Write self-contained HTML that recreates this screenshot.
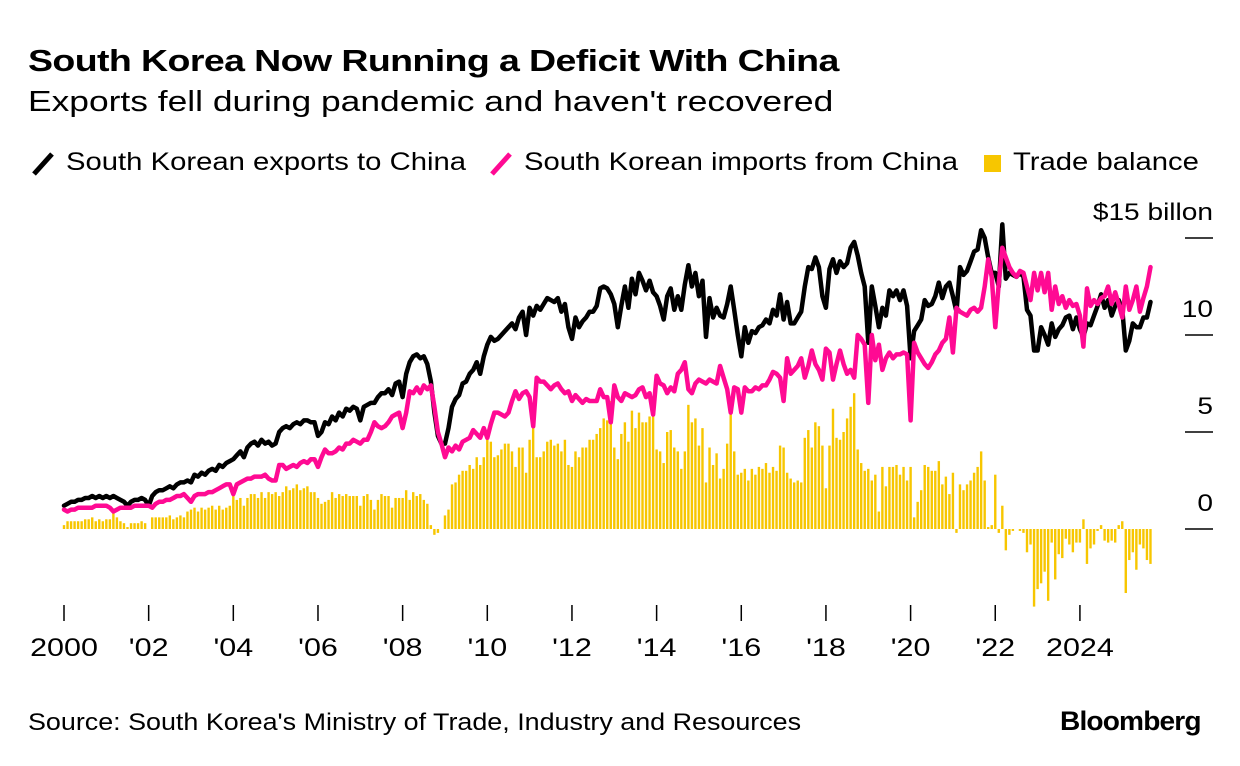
<!DOCTYPE html>
<html><head><meta charset="utf-8">
<style>
body{margin:0;background:#fff;font-family:"Liberation Sans",Arial,sans-serif;color:#000}
#wrap{position:relative;width:1240px;height:766px;overflow:hidden}
.t{position:absolute;white-space:nowrap}
.s{transform-origin:0 0}
</style></head>
<body>
<div id="wrap">
<div class="t s" style="left:28px;top:43px;font-size:31px;font-weight:bold;letter-spacing:-0.5px;transform:scaleX(1.21)">South Korea Now Running a Deficit With China</div>
<div class="t s" style="left:28px;top:86px;font-size:29px;transform:scaleX(1.22)">Exports fell during pandemic and haven't recovered</div>
<div>
<svg class="t" style="left:30px;top:150px" width="26" height="28"><line x1="4" y1="24" x2="22" y2="4" stroke="#000" stroke-width="5"/></svg>
<div class="t s" style="left:66px;top:148px;font-size:25px;transform:scaleX(1.17)">South Korean exports to China</div>
<svg class="t" style="left:488px;top:150px" width="26" height="28"><line x1="4" y1="24" x2="22" y2="4" stroke="#ff0a93" stroke-width="5"/></svg>
<div class="t s" style="left:524px;top:148px;font-size:25px;transform:scaleX(1.17)">South Korean imports from China</div>
<div class="t" style="left:984px;top:155px;width:17px;height:17px;background:#f7c600"></div>
<div class="t s" style="left:1013px;top:148px;font-size:25px;transform:scaleX(1.17)">Trade balance</div>
</div>
<svg id="chart" class="t" style="left:0;top:0" width="1240" height="766"></svg>
<div class="t s" style="left:28px;top:709px;font-size:24px;transform:scaleX(1.12)">Source: South Korea's Ministry of Trade, Industry and Resources</div>
<div class="t s" style="left:1060px;top:706px;font-size:27px;font-weight:bold;letter-spacing:-0.8px;transform:scaleX(1.04)">Bloomberg</div>
</div>
<script>
const startYear = 2000;
const exportsData = [
1.2,1.3,1.4,1.4,1.5,1.5,1.6,1.6,1.7,1.6,1.7,1.6,
1.7,1.6,1.7,1.6,1.5,1.4,1.2,1.4,1.5,1.5,1.6,1.5,
1.2,1.7,1.9,2.0,2.0,2.1,2.2,2.1,2.3,2.4,2.4,2.5,
2.4,2.8,2.7,2.9,2.8,3.0,3.1,3.0,3.3,3.2,3.4,3.5,
3.6,3.8,4.0,3.7,4.2,4.4,4.5,4.3,4.6,4.4,4.5,4.3,
4.4,5.0,5.2,5.3,5.2,5.4,5.5,5.4,5.6,5.6,5.5,5.5,
4.8,5.0,5.5,5.4,5.8,5.6,6.0,5.8,6.2,6.1,6.3,6.2,
5.6,6.3,6.4,6.5,6.5,6.8,7.0,7.0,7.2,6.9,7.5,7.6,
6.8,8.0,8.6,8.9,9.0,8.8,8.9,8.5,7.6,6.0,4.8,4.4,
4.4,5.2,6.3,6.7,6.9,7.5,7.6,8.0,8.2,8.6,8.0,8.9,
9.5,9.9,9.7,9.8,10.0,10.2,10.4,10.6,10.3,10.9,11.2,10.0,
11.4,11.0,11.5,11.3,11.6,11.9,11.8,11.7,11.9,11.2,11.6,10.4,
9.8,10.9,10.4,10.7,10.9,11.2,11.2,11.5,12.4,12.5,12.4,12.1,
11.6,10.4,11.5,12.5,11.4,12.9,12.1,13.2,12.8,12.3,12.8,12.2,
12.0,11.5,10.8,12.0,12.4,11.3,12.0,11.3,12.6,13.6,12.5,13.2,
12.0,12.8,9.9,11.9,10.9,11.4,11.0,10.9,11.6,12.5,11.3,10.0,
8.9,10.4,9.6,10.2,10.1,10.4,10.5,10.8,10.6,11.3,11.0,12.1,
10.8,11.7,10.6,10.6,10.9,11.2,12.5,13.5,13.4,14.0,13.5,12.0,
11.4,13.4,13.9,13.2,13.8,13.5,13.7,14.5,14.8,14.1,13.2,12.5,
9.6,12.5,11.5,10.4,11.4,11.0,12.3,12.0,12.3,11.8,12.3,11.5,
8.8,10.2,10.5,10.8,11.8,11.5,11.6,12.0,12.7,11.9,12.5,12.7,
12.0,11.2,13.5,13.1,13.3,13.8,14.3,14.4,15.4,15.0,14.0,13.2,
13.2,12.5,15.7,12.9,13.2,13.1,13.0,13.2,13.0,11.3,11.0,9.2,
9.2,10.4,10.0,9.5,10.6,9.9,10.3,10.5,10.9,11.0,10.3,10.9,
10.3,9.9,10.6,10.5,11.0,11.5,12.1,11.4,11.8,11.0,11.5,11.8,
11.3,9.2,9.7,10.6,10.4,10.4,10.9,10.9,11.7];
const importsData = [
1.0,0.9,1.0,1.0,1.1,1.1,1.1,1.1,1.1,1.2,1.2,1.2,
1.2,1.1,0.9,1.0,1.1,1.1,1.1,1.1,1.2,1.2,1.2,1.2,
1.2,1.1,1.3,1.4,1.4,1.5,1.5,1.6,1.7,1.7,1.8,1.6,
1.4,1.7,1.8,1.8,1.8,1.9,1.9,2.0,2.1,2.2,2.3,2.3,
1.8,2.3,2.4,2.5,2.6,2.6,2.7,2.7,2.7,2.8,2.6,2.5,
2.5,3.3,3.3,3.1,3.2,3.3,3.2,3.4,3.5,3.4,3.6,3.6,
3.2,3.7,4.1,3.9,3.9,4.0,4.2,4.1,4.4,4.4,4.6,4.5,
4.4,4.6,4.6,5.0,5.5,5.3,5.2,5.3,5.5,5.8,5.9,6.0,
5.2,6.0,7.1,7.0,7.3,7.0,7.4,7.2,7.4,6.3,5.0,4.4,
3.7,4.2,4.0,4.3,4.1,4.5,4.6,4.7,5.1,4.9,4.7,5.2,
4.7,5.4,6.0,6.0,5.9,5.8,6.0,6.6,7.1,6.7,7.0,7.1,
6.8,5.3,7.8,7.6,7.6,7.4,7.2,7.4,7.5,7.2,7.0,7.1,
6.6,6.9,6.7,6.5,6.7,6.6,6.6,6.6,7.2,6.8,6.8,5.5,
7.4,6.8,6.6,7.0,6.9,6.8,6.9,7.2,7.3,6.8,7.0,5.9,
7.9,7.5,7.4,7.0,7.3,7.1,8.0,8.2,8.6,7.2,7.0,7.5,
7.7,7.6,7.5,7.7,7.6,7.5,8.4,7.8,7.2,6.0,7.3,7.2,
6.0,7.3,7.1,7.1,7.3,7.2,7.4,7.4,7.7,8.1,8.0,7.8,
6.6,8.8,8.0,8.2,8.4,8.8,7.8,8.4,9.2,8.5,8.2,7.7,
9.3,9.1,7.7,8.5,9.2,8.5,8.0,8.2,7.8,10.0,9.8,9.5,
6.5,10.0,8.7,9.5,8.2,8.8,9.1,8.8,9.0,9.0,9.1,9.0,
5.6,9.6,9.1,8.8,8.5,8.3,8.6,9.0,9.2,9.6,9.8,10.9,
9.1,11.4,11.2,11.1,11.0,11.3,11.4,11.2,11.4,12.5,13.9,13.0,
10.4,12.7,14.5,14.0,13.5,13.2,13.0,13.3,13.2,12.5,11.8,13.2,
12.3,13.2,12.2,13.2,11.3,12.5,11.6,12.0,11.4,11.8,11.5,11.6,
11.0,9.4,12.4,11.5,11.8,11.6,11.9,12.0,12.5,11.6,12.2,11.6,
10.9,12.5,11.3,11.8,12.5,11.2,11.9,12.5,13.5];
const yTicks = [0,5,10,15];
const yTickLabels = ["0","5","10","$15 billon"];
const xTickYears = [2000,2002,2004,2006,2008,2010,2012,2014,2016,2018,2020,2022,2024];
const xTickLabels = ["2000","'02","'04","'06","'08","'10","'12","'14","'16","'18","'20","'22","2024"];

const NS="http://www.w3.org/2000/svg";
const svg=document.getElementById('chart');
function xOf(i){return 64+(i/12)*42.33;}
function yOf(v){return 529-v*19.4;}
function mk(tag,attrs,parent){const e=document.createElementNS(NS,tag);for(const k in attrs)e.setAttribute(k,attrs[k]);(parent||svg).appendChild(e);return e;}

yTicks.forEach((v,k)=>{
  const l=mk('line',{x1:1185,x2:1213,y1:yOf(v),y2:yOf(v),stroke:'#000','stroke-width':1.5});
  
  
  const t=mk('text',{x:0,y:0,'text-anchor':'end','font-size':24,'font-family':'Liberation Sans, sans-serif',transform:'translate(1213,'+(yOf(v)-18)+') scale(1.17,1)'});
  t.textContent=yTickLabels[k];
  
  
});
xTickYears.forEach((yr,k)=>{
  const x=xOf((yr-startYear)*12);
  const l=mk('line',{x1:x,x2:x,y1:605,y2:621,stroke:'#000','stroke-width':1.5});
  
  
  const t=mk('text',{x:0,y:0,'text-anchor':'middle','font-size':25,'font-family':'Liberation Sans, sans-serif',transform:'translate('+x+',656) scale(1.22,1)'});
  t.textContent=xTickLabels[k];
  
  
});
const g=mk('g',{});


exportsData.forEach((e,i)=>{
  const b=e-importsData[i];
  const y0=yOf(0),y1=yOf(b);
  const r=mk('rect',{x:xOf(i)-1.2,y:Math.min(y0,y1),width:2.4,height:Math.abs(y1-y0),fill:'#f7c600'},g);
  
  
});
function line(data,color,name){
  const d=data.map((v,i)=>(i?'L':'M')+xOf(i).toFixed(1)+' '+yOf(v).toFixed(1)).join('');
  const p=mk('path',{d:d,fill:'none',stroke:color,'stroke-width':4.5,'stroke-linejoin':'round','stroke-linecap':'round'});
  
  
}
line(exportsData,'#000','exports-line');
line(importsData,'#ff0a93','imports-line');
</script>
</body></html>
